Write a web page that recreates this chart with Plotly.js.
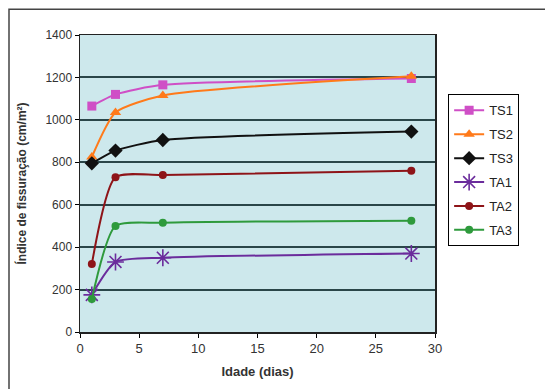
<!DOCTYPE html>
<html>
<head>
<meta charset="utf-8">
<script src="https://cdn.plot.ly/plotly-3.0.1.min.js"></script>
<style>
  html, body { margin: 0; padding: 0; background: #ffffff; }
  #chart { width: 545px; height: 389px; }
</style>
</head>
<body>
<div id="chart"></div>
<script>
// Idade (dias)
const idade = [1, 3, 7, 28];

// Índice de fissuração (cm/m²) por traço
const TS1 = [1065, 1120, 1165, 1195];
const TS2 = [825, 1035, 1115, 1205];
const TS3 = [795, 855, 905, 945];
const TA1 = [175, 330, 350, 370];
const TA2 = [320, 730, 740, 760];
const TA3 = [155, 500, 515, 525];

const seriesNames = ['TS1', 'TS2', 'TS3', 'TA1', 'TA2', 'TA3'];
const seriesValues = [TS1, TS2, TS3, TA1, TA2, TA3];

const styles = [
  { color: '#cf4fc6', symbol: 'square', size: 9, mline: 0 },
  { color: '#ff7a1a', symbol: 'triangle-up', size: 10, mline: 0 },
  { color: '#111111', symbol: 'diamond', size: 11, mline: 0 },
  { color: '#6b2c9c', symbol: 'asterisk-open', size: 14, mline: 1.6 },
  { color: '#8e1418', symbol: 'circle', size: 8, mline: 0 },
  { color: '#2e9a3c', symbol: 'circle', size: 8, mline: 0 }
];

const traces = seriesNames.map((name, i) => ({
  type: 'scatter',
  mode: 'lines+markers',
  name: name,
  legendgroup: name,
  x: idade,
  y: seriesValues[i],
  line: { color: styles[i].color, width: 2, shape: 'spline', smoothing: 0.6 },
  marker: {
    color: styles[i].color,
    symbol: styles[i].symbol,
    size: styles[i].size,
    line: { color: styles[i].color, width: styles[i].mline }
  }
}));

const layout = {
  width: 545,
  height: 389,
  margin: { l: 80, r: 110, t: 35, b: 57 },
  paper_bgcolor: '#ffffff',
  plot_bgcolor: '#cde8ec',
  font: { family: 'Liberation Sans, Arial, sans-serif', size: 12, color: '#333333' },
  showlegend: true,
  legend: {
    x: 1.037, xanchor: 'left',
    y: 0.80, yanchor: 'top',
    bgcolor: '#ffffff',
    bordercolor: '#000000',
    borderwidth: 1,
    traceorder: 'grouped',
    tracegroupgap: 4,
    itemwidth: 30,
    font: { family: 'Liberation Sans, Arial, sans-serif', size: 13, color: '#222222' }
  },
  xaxis: {
    range: [0, 30],
    tickvals: [0, 5, 10, 15, 20, 25, 30],
    ticks: 'outside', ticklen: 4, tickcolor: '#000000',
    showgrid: false, zeroline: false,
    showline: true, linecolor: '#222222', linewidth: 1.5, mirror: true,
    tickfont: { size: 13, color: '#333333' },
    title: { text: 'Idade (dias)', font: { size: 13, color: '#333333', weight: 'bold' }, standoff: 12 }
  },
  yaxis: {
    range: [0, 1400],
    tickvals: [0, 200, 400, 600, 800, 1000, 1200, 1400],
    ticks: 'outside', ticklen: 4, tickcolor: '#000000',
    showgrid: true, gridcolor: '#2a4649', gridwidth: 2,
    zeroline: false,
    showline: true, linecolor: '#222222', linewidth: 1.5, mirror: true,
    tickfont: { size: 12, color: '#333333' },
    title: { text: 'Índice de fissuração (cm/m²)', font: { size: 12, color: '#333333', weight: 'bold' }, standoff: 16 }
  },
  shapes: [{
    type: 'rect', xref: 'paper', yref: 'paper',
    x0: -0.200, x1: 1.40, y0: -0.25, y1: 1.087,
    line: { color: '#444444', width: 1.5 },
    fillcolor: 'rgba(0,0,0,0)',
    layer: 'below'
  }]
};

Plotly.newPlot('chart', traces, layout, { displayModeBar: false, staticPlot: true });
</script>
</body>
</html>
